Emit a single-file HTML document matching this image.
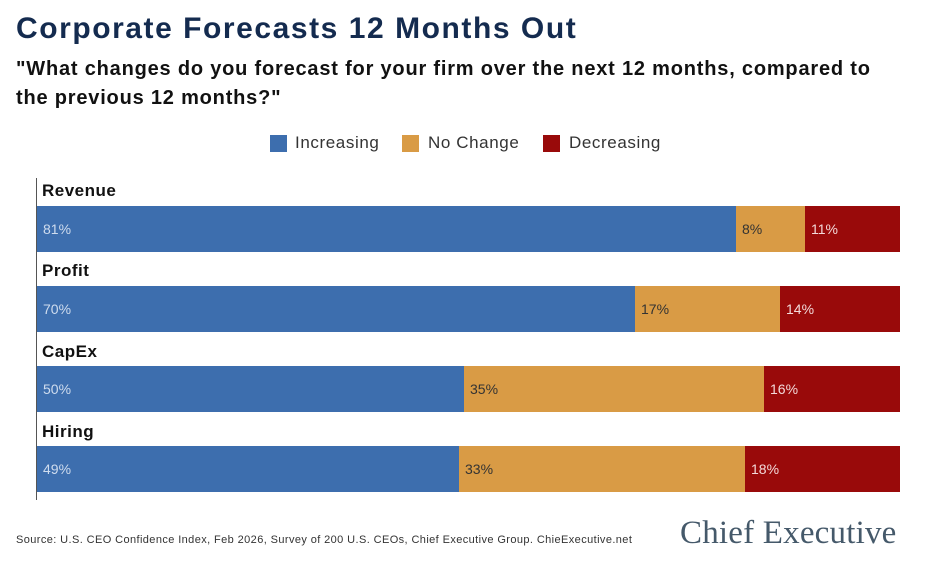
<!DOCTYPE html>
<html><head><style>
body{margin:0;width:936px;height:567px;background:#fff;position:relative;overflow:hidden;font-family:"Liberation Sans",sans-serif}
div{position:absolute}
.t{left:16px;top:12px;font-size:30px;font-weight:bold;color:#142b4f;letter-spacing:1.55px}
.s{left:16px;top:55px;font-size:20px;font-weight:bold;color:#111;line-height:29px;width:880px;letter-spacing:0.8px}
.lg{top:133px;font-size:17px;color:#333;letter-spacing:0.6px}
.sq{top:135px;width:17px;height:17px}
.cat{left:42px;font-size:17px;font-weight:bold;color:#111;letter-spacing:0.5px}
.b{height:46px;font-size:14px;line-height:46px;padding-left:6px;box-sizing:border-box}
.bl{background:#3d6eae;color:#cfdcee}
.or{background:#d99b45;color:#333}
.rd{background:#990a0a;color:#f3dada}
</style></head><body>
<div class="t">Corporate Forecasts 12 Months Out</div>
<div class="s">"What changes do you forecast for your firm over the next 12 months, compared to the previous 12 months?"</div>
<div class="sq" style="left:270px;background:#3d6eae"></div><div class="lg" style="left:295px">Increasing</div>
<div class="sq" style="left:402px;background:#d99b45"></div><div class="lg" style="left:428px">No Change</div>
<div class="sq" style="left:543px;background:#990a0a"></div><div class="lg" style="left:569px">Decreasing</div>
<div style="left:36px;top:178px;width:1px;height:322px;background:#555"></div>

<div class="cat" style="top:181px">Revenue</div>
<div class="b bl" style="left:37px;top:206px;width:699px">81%</div>
<div class="b or" style="left:736px;top:206px;width:69px">8%</div>
<div class="b rd" style="left:805px;top:206px;width:95px">11%</div>

<div class="cat" style="top:261px">Profit</div>
<div class="b bl" style="left:37px;top:286px;width:598px">70%</div>
<div class="b or" style="left:635px;top:286px;width:145px">17%</div>
<div class="b rd" style="left:780px;top:286px;width:120px">14%</div>

<div class="cat" style="top:342px">CapEx</div>
<div class="b bl" style="left:37px;top:366px;width:427px">50%</div>
<div class="b or" style="left:464px;top:366px;width:300px">35%</div>
<div class="b rd" style="left:764px;top:366px;width:136px">16%</div>

<div class="cat" style="top:422px">Hiring</div>
<div class="b bl" style="left:37px;top:446px;width:422px">49%</div>
<div class="b or" style="left:459px;top:446px;width:286px">33%</div>
<div class="b rd" style="left:745px;top:446px;width:155px">18%</div>

<div style="left:16px;top:534px;font-size:11px;color:#333;letter-spacing:0.4px">Source: U.S. CEO Confidence Index, Feb 2026, Survey of 200 U.S. CEOs, Chief Executive Group. ChieExecutive.net</div>
<div style="left:680px;top:515px;font-family:'Liberation Serif',serif;font-size:33px;color:#45596a;letter-spacing:0.2px">Chief Executive</div>
</body></html>
